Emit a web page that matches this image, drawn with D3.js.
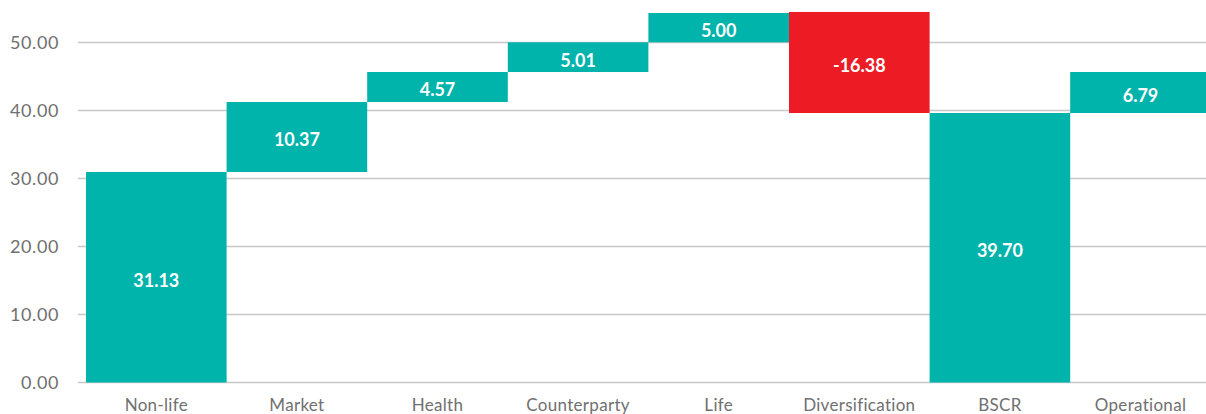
<!DOCTYPE html>
<html>
<head>
<meta charset="utf-8">
<script src="https://cdn.jsdelivr.net/npm/d3@7"></script>
<style>
  body { margin: 0; background: #fff; }
  svg text { font-family: Lato, "Open Sans", sans-serif; }
</style>
</head>
<body>
<div id="chart"></div>
<script>
// categories along the bottom
var categories = ["Non-life", "Market", "Health", "Counterparty", "Life", "Diversification", "BSCR", "Operational"];

// value printed on each bar
var labels = ["31.13", "10.37", "4.57", "5.01", "5.00", "-16.38", "39.70", "6.79"];

// where each floating bar starts and ends
var barFrom = [0, 30.96, 41.25, 45.66, 50.03, 54.49, 0, 39.63];
var barTo = [30.96, 41.25, 45.66, 50.03, 54.34, 39.63, 39.63, 45.66];

var yTicks = [0, 10, 20, 30, 40, 50];

var width = 1206, height = 414;
var teal = "#00b3ab", red = "#ed1c24";

var svg = d3.select("#chart").append("svg")
  .attr("width", width)
  .attr("height", height);

var x = d3.scaleBand()
  .domain(categories)
  .range([86, 86 + 8 * 140.6])
  .padding(0);

var y = d3.scaleLinear()
  .domain([0, 50])
  .range([382.5, 42.5]);

// grid lines
svg.selectAll("line.grid")
  .data(yTicks)
  .enter()
  .append("line")
  .attr("class", "grid")
  .attr("x1", 78)
  .attr("x2", width)
  .attr("y1", function (d) { return y(d); })
  .attr("y2", function (d) { return y(d); })
  .style("stroke", "#c8c8c8")
  .style("stroke-width", 1.5);

// y axis labels
svg.selectAll("text.ytick")
  .data(yTicks)
  .enter()
  .append("text")
  .attr("class", "ytick")
  .attr("x", 59)
  .attr("y", function (d) { return y(d); })
  .attr("dy", "0.36em")
  .attr("text-anchor", "end")
  .style("font-size", "18px")
  .style("letter-spacing", "0.6px")
  .style("fill", "#707070")
  .text(function (d) { return d3.format(".2f")(d); });

var rows = categories.map(function (c, i) {
  return { cat: c, from: barFrom[i], to: barTo[i], label: labels[i] };
});

svg.selectAll("rect.bar")
  .data(rows)
  .enter()
  .append("rect")
  .attr("class", "bar")
  .attr("x", function (d) { return x(d.cat); })
  .attr("width", x.bandwidth())
  .attr("y", function (d) { return y(Math.max(d.from, d.to)); })
  .attr("height", function (d) { return Math.abs(y(d.from) - y(d.to)); })
  .style("fill", function (d) { return d.to < d.from ? red : teal; });

svg.selectAll("text.val")
  .data(rows)
  .enter()
  .append("text")
  .attr("class", "val")
  .attr("x", function (d) { return x(d.cat) + x.bandwidth() / 2; })
  .attr("y", function (d) { return (y(d.from) + y(d.to)) / 2 + 3; })
  .attr("dy", "0.36em")
  .attr("text-anchor", "middle")
  .style("font-size", "18px")
  .style("font-weight", "bold")
  .style("fill", "#fff")
  .text(function (d) { return d.label; });

// category labels
svg.selectAll("text.cat")
  .data(categories)
  .enter()
  .append("text")
  .attr("class", "cat")
  .attr("x", function (d) { return x(d) + x.bandwidth() / 2; })
  .attr("y", 411)
  .attr("text-anchor", "middle")
  .style("font-size", "17px")
  .style("letter-spacing", "0.3px")
  .style("fill", "#707070")
  .text(function (d) { return d; });
</script>
</body>
</html>
